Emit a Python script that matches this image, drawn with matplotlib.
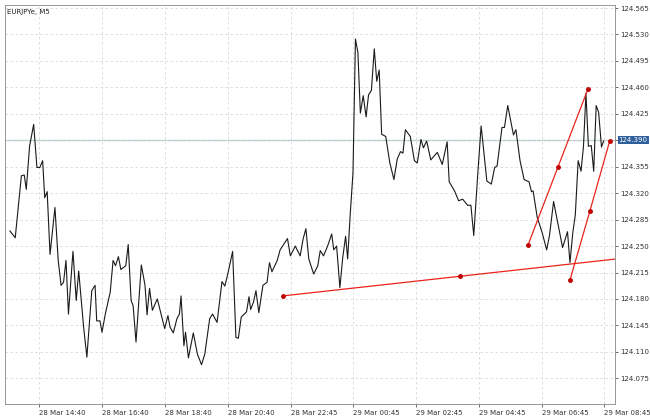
import numpy as np
import matplotlib.pyplot as plt

# EURJPY M5 closes (left to right)
prices = [
    124.270, 124.261, 124.343, 124.344, 124.325, 124.382, 124.411, 124.354, 124.354, 124.363,
    124.314, 124.322, 124.239, 124.301, 124.231, 124.198, 124.202, 124.231, 124.160, 124.243,
    124.178, 124.217, 124.143, 124.103, 124.191, 124.198, 124.151, 124.151, 124.136, 124.160,
    124.189, 124.231, 124.224, 124.236, 124.219, 124.224, 124.252, 124.178, 124.171, 124.123,
    124.225, 124.198, 124.159, 124.194, 124.165, 124.180, 124.156, 124.141, 124.158, 124.143,
    124.135, 124.154, 124.160, 124.184, 124.118, 124.136, 124.102, 124.135, 124.107, 124.093,
    124.107, 124.154, 124.160, 124.149, 124.203, 124.197, 124.215, 124.243, 124.129, 124.128,
    124.156, 124.163, 124.183, 124.166, 124.176, 124.191, 124.162, 124.198, 124.202, 124.228,
    124.216, 124.231, 124.245, 124.260, 124.237, 124.250, 124.237, 124.259, 124.273, 124.233,
    124.213, 124.224, 124.244, 124.237, 124.250, 124.266, 124.245, 124.250, 124.195, 124.235,
    124.263, 124.233, 124.290, 124.347, 124.524, 124.506, 124.426, 124.449, 124.421, 124.450,
    124.456, 124.511, 124.468, 124.483, 124.398, 124.395, 124.360, 124.338, 124.365, 124.375,
    124.373, 124.404, 124.395, 124.363, 124.360, 124.391, 124.380, 124.389, 124.364, 124.369,
    124.374, 124.358, 124.388, 124.335, 124.323, 124.310, 124.312, 124.304, 124.304, 124.264,
    124.347, 124.409, 124.336, 124.332, 124.354, 124.356, 124.407, 124.407, 124.436, 124.397,
    124.404, 124.363, 124.338, 124.335, 124.322, 124.323, 124.288, 124.268, 124.245, 124.264,
    124.309, 124.281, 124.248, 124.269, 124.228, 124.268, 124.291, 124.363, 124.349, 124.382,
    124.452, 124.382, 124.383, 124.349, 124.436, 124.427, 124.381, 124.389,
]
# horizontal position of each traced vertex (chart units)
trace_pos = [
    12, 25, 40, 47, 52, 60, 70, 78, 85, 92, 97, 103, 110, 122, 130, 137, 143, 149, 155, 166,
    174, 180, 192, 200, 212, 220, 224, 232, 237, 245, 257, 264, 270, 277, 283, 295, 301, 308,
    313, 320, 333, 342, 347, 353, 360, 372, 383, 390, 398, 403, 411, 420, 426, 430, 437, 441,
    448, 460, 470, 480, 488, 500, 507, 518, 530, 537, 545, 556, 564, 570, 577, 590, 596, 600,
    607, 613, 620, 630, 640, 646, 652, 665, 672, 690, 697, 709, 721, 728, 735, 742, 754, 764,
    770, 778, 788, 798, 803, 810, 818, 825, 832, 837, 843, 850, 856, 862, 868, 875, 882, 888,
    895, 902, 908, 914, 920, 930, 940, 950, 958, 966, 972, 978, 990, 1000, 1007, 1016, 1022,
    1030, 1040, 1048, 1056, 1068, 1080, 1085, 1098, 1108, 1118, 1130, 1138, 1145, 1155, 1163,
    1177, 1188, 1196, 1202, 1214, 1220, 1228, 1242, 1248, 1258, 1268, 1280, 1286, 1290, 1300,
    1312, 1323, 1330, 1340, 1350, 1362, 1374, 1380, 1387, 1393, 1400, 1407, 1413, 1419, 1425,
    1432, 1438, 1444, 1450, 1457, 1462,
]
tick_pos = [84, 237, 390, 545, 698, 851, 1004, 1157, 1311, 1463]
tick_labels = ["28 Mar 14:40", "28 Mar 16:40", "28 Mar 18:40", "28 Mar 20:40", "28 Mar 22:45",
               "29 Mar 00:45", "29 Mar 02:45", "29 Mar 04:45", "29 Mar 06:45", "29 Mar 08:45"]
y_ticks = [124.075, 124.110, 124.145, 124.180, 124.215, 124.250, 124.285, 124.320,
           124.355, 124.390, 124.425, 124.460, 124.495, 124.530, 124.565]
last_price = 124.390

# trendline (x, price) anchors
trend_x = [678, 1111]
trend_p = [124.184, 124.210]
chan_a_x = [1278, 1351, 1424]
chan_a_p = [124.252, 124.355, 124.458]
chan_b_x = [1380, 1429, 1477]
chan_b_p = [124.205, 124.297, 124.389]

x_left, x_right = 0, 1490

fig = plt.figure(figsize=(6.5, 4.17), dpi=100)
ax = fig.add_axes([5 / 650, 13 / 417, 610 / 650, 399 / 417])
ax.set_xlim(x_left, x_right)
ax.set_ylim(124.041, 124.569)

ax.grid(True, color="#d8d8d8", linestyle=(0, (3, 3)), linewidth=0.6)
ax.axhline(last_price, color="#b8c8d0", linewidth=1.0, zorder=1)
ax.plot(trace_pos, prices, color="#1a1a1a", linewidth=0.8, zorder=3)

red = "#e8241c"
slope = (trend_p[1] - trend_p[0]) / (trend_x[1] - trend_x[0])
ax.plot([trend_x[0], x_right], [trend_p[0], trend_p[0] + slope * (x_right - trend_x[0])],
        color=red, linewidth=0.9, zorder=4)
ax.plot(trend_x, trend_p, "o", color="#c00000", markersize=2.5, zorder=5)
for xs, ps in [(chan_a_x, chan_a_p), (chan_b_x, chan_b_p)]:
    ax.plot(xs, ps, color=red, linewidth=0.9, zorder=4)
    ax.plot(xs, ps, "o", color="#c00000", markersize=2.5, zorder=5)

ax.set_xticks(tick_pos)
ax.set_xticklabels(tick_labels, ha="left")
ax.set_yticks(y_ticks)
# the last-price box takes the place of its own tick label
ax.set_yticklabels(["" if v == last_price else "%.3f" % v for v in y_ticks])
ax.yaxis.tick_right()
ax.tick_params(axis="both", labelsize=5, colors="#333333", length=2.5, width=0.5, pad=1)
ax.tick_params(axis="x", pad=1.5)
for s in ax.spines.values():
    s.set_color("#888888")
    s.set_linewidth(0.6)

ax.text(0.004, 0.99, "EURJPYe, M5", transform=ax.transAxes, fontsize=5,
        va="top", ha="left", color="#222222")
ax.text(1.006, last_price, "%.3f" % last_price, transform=ax.get_yaxis_transform(),
        fontsize=5, color="white", va="center", ha="left", zorder=10,
        bbox=dict(boxstyle="square,pad=0.15", fc="#2e5f9a", ec="none"))

fig.savefig("out.png", dpi=100)
